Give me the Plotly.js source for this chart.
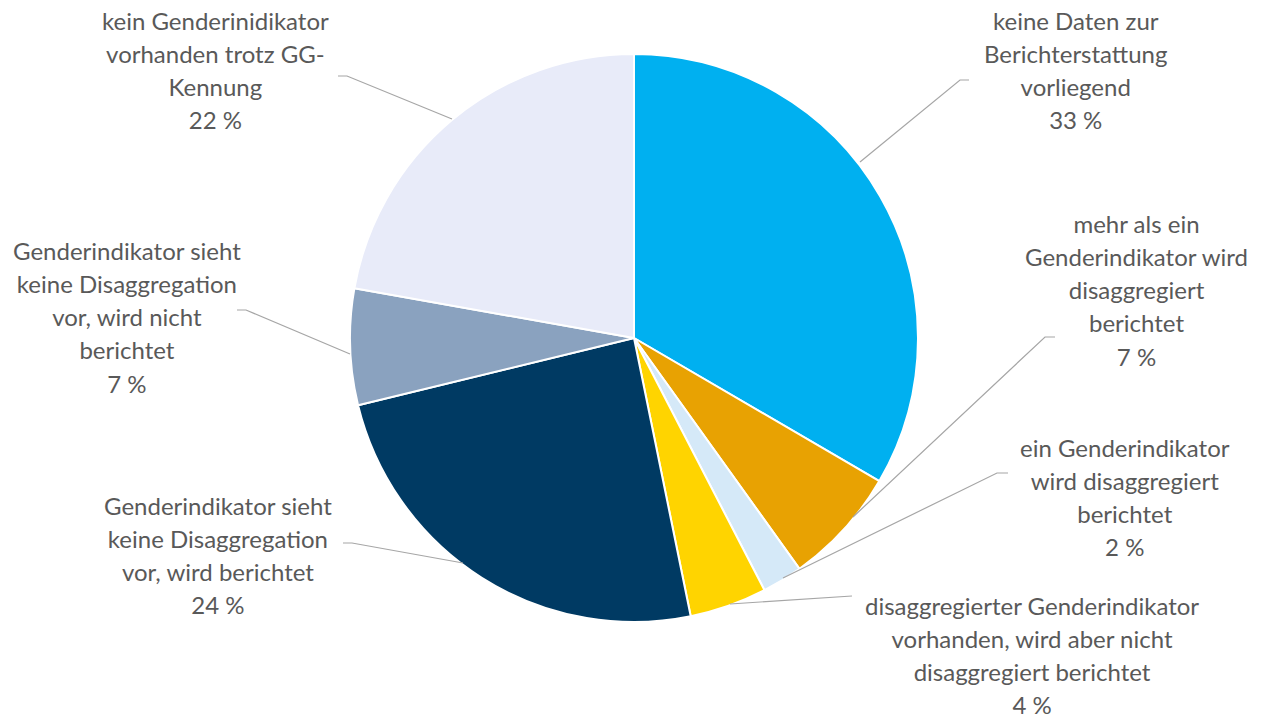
<!DOCTYPE html>
<html>
<head>
<meta charset="utf-8">
<script src="https://cdn.plot.ly/plotly-3.0.1.min.js"></script>
<style>html,body{margin:0;padding:0;background:#fff;}#chart{width:1263px;height:718px;}</style>
</head>
<body>
<div id="chart"></div>
<script>
// Data (clockwise from 12 o'clock)
const categories = [
  "keine Daten zur<br>Berichterstattung<br>vorliegend",
  "mehr als ein<br>Genderindikator wird<br>disaggregiert<br>berichtet",
  "ein Genderindikator<br>wird disaggregiert<br>berichtet",
  "disaggregierter Genderindikator<br>vorhanden, wird aber nicht<br>disaggregiert berichtet",
  "Genderindikator sieht<br>keine Disaggregation<br>vor, wird berichtet",
  "Genderindikator sieht<br>keine Disaggregation<br>vor, wird nicht<br>berichtet",
  "kein Genderinidikator<br>vorhanden trotz GG-<br>Kennung"
];
const values = [33.4, 6.7, 2.3, 4.4, 24.4, 6.6, 22.2];
const percentLabels = ["33 %", "7 %", "2 %", "4 %", "24 %", "7 %", "22 %"];
const colors = ["#00B0F0", "#E8A202", "#D5E9F8", "#FFD400", "#003A63", "#8AA2BF", "#E8EBF9"];

// Layout helpers (pixel positions of label blocks and leader lines)
const W = 1263, H = 718;
const px = x => x / W, py = y => 1 - y / H;
const labelPos = [
  [1075, 70], [1136, 290], [1125, 497], [1032, 655], [218, 555], [127, 317], [215, 70]
];
const leaders = [
  [[969, 80], [960, 80], [860, 162]],
  [[1055, 337], [1045, 337], [853, 517]],
  [[1008, 473], [997, 473], [783, 578]],
  [[852, 596], [852, 596], [730, 604]],
  [[343, 543], [352, 543], [463, 563]],
  [[237, 310], [246, 310], [350, 354]],
  [[338, 76], [347, 76], [452, 119]]
];

const annotations = categories.map((c, i) => ({
  xref: 'paper', yref: 'paper', x: px(labelPos[i][0]), y: py(labelPos[i][1]),
  xanchor: 'center', yanchor: 'middle', showarrow: false, align: 'center',
  text: '<span style="font-size:24px">' + c + '<br>' + percentLabels[i] + '</span>',
  font: {family: 'Lato, "Open Sans", sans-serif', size: 25.5, color: '#595959'}
}));

const shapes = leaders.map(pts => ({
  type: 'path', xref: 'paper', yref: 'paper',
  path: pts.map((p, j) => (j ? 'L ' : 'M ') + px(p[0]) + ' ' + py(p[1])).join(' '),
  line: {color: '#A6A6A6', width: 1.2}
}));

const trace = {
  type: 'pie',
  values: values,
  labels: categories,
  marker: {colors: colors, line: {color: '#FFFFFF', width: 2}},
  sort: false,
  direction: 'clockwise',
  rotation: 0,
  textinfo: 'none',
  hoverinfo: 'none',
  showlegend: false,
  domain: {x: [350 / W, 918 / W], y: [1 - 622 / H, 1 - 54 / H]}
};

Plotly.newPlot('chart', [trace], {
  width: W, height: H,
  margin: {l: 0, r: 0, t: 0, b: 0},
  paper_bgcolor: '#FFFFFF',
  showlegend: false,
  annotations: annotations,
  shapes: shapes
}, {displayModeBar: false, staticPlot: true});
</script>
</body>
</html>
